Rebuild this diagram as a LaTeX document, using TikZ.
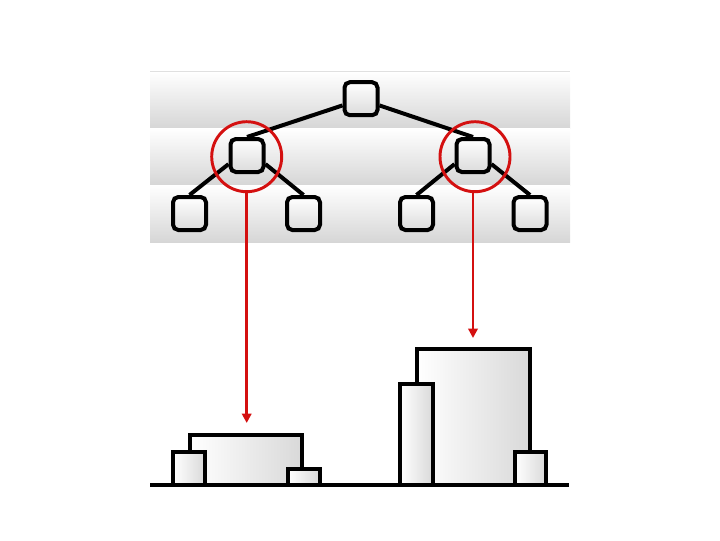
\documentclass[tikz,border=0pt]{standalone}
\usetikzlibrary{arrows.meta}
\definecolor{hred}{HTML}{D41010}
\tikzset{
  tnode/.style={draw=black, line width=3pt, rounded corners=4pt, minimum size=24.75pt, inner sep=0pt, top color=white, bottom color=black!14},
  tedge/.style={draw=black, line width=3pt},
  band/.style={top color=white, bottom color=black!16, draw=none},
  hring/.style={draw=hred, line width=2.2pt, circle, minimum size=52.5pt, inner sep=0pt},
  harrow/.style={draw=hred, line width=2.2pt, -{Triangle[width=7pt,length=7pt]}},
  blockbox/.style={draw=black, line width=3pt, left color=white, right color=black!15},
}
\begin{document}
\begin{tikzpicture}[x=0.75pt, y=-0.75pt]
\useasboundingbox (0,0) rectangle (720,540);
% bands
\shade[band] (150,71.5) rectangle (570,128);
\shade[band] (150,128) rectangle (570,185);
\shade[band] (150,185) rectangle (570,242);
\draw[black!12, line width=0.6pt] (150,71.5) -- (570,71.5);
% tree nodes
\node[tnode] (r) at (361,98.7) {};
\node[tnode] (c1) at (247,155.5) {};
\node[tnode] (c2) at (473,155.5) {};
\node[tnode] (g1) at (189.5,213.5) {};
\node[tnode] (g2) at (303.5,213.5) {};
\node[tnode] (g3) at (416.5,213.5) {};
\node[tnode] (g4) at (530,213.5) {};
% edges
\draw[tedge] (r.200) -- (c1.north);
\draw[tedge] (r.340) -- (c2.north);
\draw[tedge] (c1.205) -- (g1.north);
\draw[tedge] (c1.335) -- (g2.north);
\draw[tedge] (c2.205) -- (g3.north);
\draw[tedge] (c2.335) -- (g4.north);
% highlight rings
\node[hring] (h1) at (246.7,156.7) {};
\node[hring] (h2) at (475,156.7) {};
\coordinate (t1) at (246.7,423);
\coordinate (t2) at (473,338);
\draw[harrow] (h1.south) -- (t1);
\draw[harrow] (h2.south -| t2) -- (t2);
% bottom blocks, left group
\draw[blockbox] (189.7,485) rectangle (302,435.3);
\draw[blockbox] (173,485) rectangle (205.3,452);
\draw[blockbox] (288,485) rectangle (319.7,468.7);
% right group
\draw[blockbox] (417,485) rectangle (529.7,349.3);
\draw[blockbox] (400.3,485) rectangle (433,384.3);
\draw[blockbox] (514.7,485) rectangle (546.3,452);
% baseline
\draw[black, line width=3pt] (150,485) -- (569,485);
\end{tikzpicture}
\end{document}
